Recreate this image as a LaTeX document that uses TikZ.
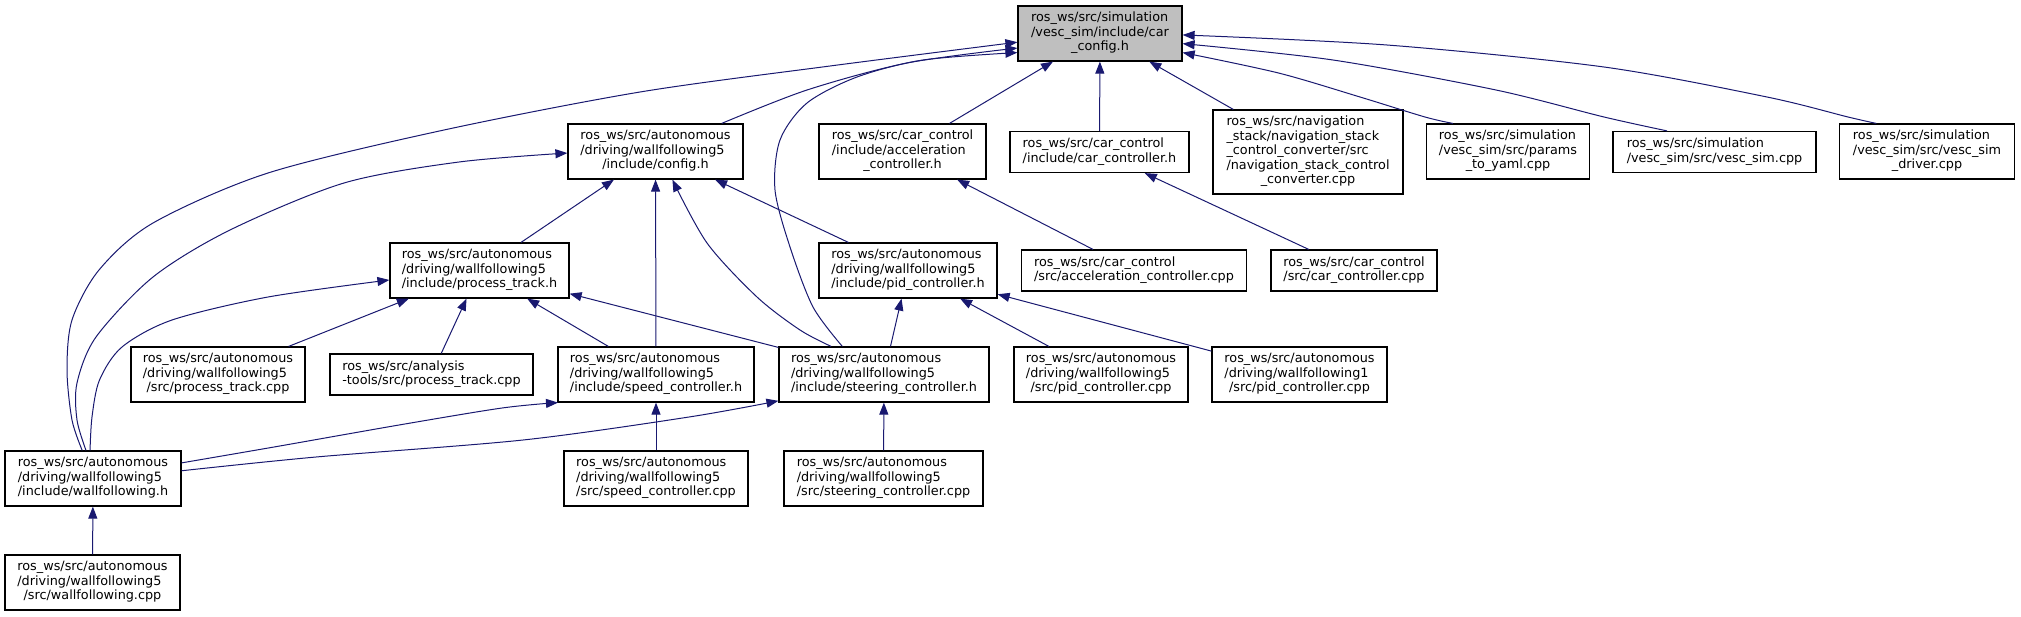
\documentclass[tikz,border=0pt]{standalone}
\usepackage{fontspec}
\setmainfont{DejaVu Sans}
\usetikzlibrary{arrows.meta}
\definecolor{edgeblue}{HTML}{191970}
\definecolor{focusgray}{HTML}{BFBFBF}
\newcommand{\lblfont}{\fontsize{6.4}{7.25}\selectfont}
% lines left aligned, the last one centred
\newcommand{\flabel}[2]{\begin{tabular}{@{}l@{}}#1\\\multicolumn{1}{@{}c@{}}{#2}\end{tabular}}

\begin{document}
\begin{tikzpicture}[x=0.5pt, y=-0.5pt,
    file/.style={draw=black, line width=0.6pt, fill=white, inner sep=0pt, font=\lblfont},
    rows2/.style={minimum height=20.5pt},
    rows3/.style={minimum height=27.5pt},
    rows5/.style={minimum height=42pt},
    boxw/.style={minimum width=#1*0.5pt},
    dep/.style={draw=edgeblue, line width=0.5pt, -{Triangle[length=6pt,width=4.5pt]}}]
  \useasboundingbox (0,0) rectangle (2021,616);
  % top row
  \node[file, rows3, boxw=164, fill=focusgray] (carcfg) at (1100,33.5)
    {\flabel{ros\_ws/src/simulation\\/vesc\_sim/include/car}{\_config.h}};
  % second row
  \node[file, rows3, boxw=175] (config) at (655.5,151.5)
    {\flabel{ros\_ws/src/autonomous\\/driving/wallfollowing5}{/include/config.h}};
  \node[file, rows3, boxw=167] (accelh) at (902.5,151.5)
    {\flabel{ros\_ws/src/car\_control\\/include/acceleration}{\_controller.h}};
  \node[file, rows2, boxw=179] (carctrlh) at (1099.5,152)
    {\flabel{ros\_ws/src/car\_control}{/include/car\_controller.h}};
  \node[file, rows5, boxw=190] (navconv) at (1308,152)
    {\flabel{ros\_ws/src/navigation\\\_stack/navigation\_stack\\\_control\_converter/src\\/navigation\_stack\_control}{\_converter.cpp}};
  \node[file, rows3, boxw=163] (params) at (1508,151.5)
    {\flabel{ros\_ws/src/simulation\\/vesc\_sim/src/params}{\_to\_yaml.cpp}};
  \node[file, rows2, boxw=203] (vescsim) at (1714.5,152)
    {\flabel{ros\_ws/src/simulation}{/vesc\_sim/src/vesc\_sim.cpp}};
  \node[file, rows3, boxw=175] (vescdrv) at (1927,151.5)
    {\flabel{ros\_ws/src/simulation\\/vesc\_sim/src/vesc\_sim}{\_driver.cpp}};
  % third row
  \node[file, rows3, boxw=179] (proch) at (479.5,270.5)
    {\flabel{ros\_ws/src/autonomous\\/driving/wallfollowing5}{/include/process\_track.h}};
  \node[file, rows3, boxw=178] (pidh) at (908,270.5)
    {\flabel{ros\_ws/src/autonomous\\/driving/wallfollowing5}{/include/pid\_controller.h}};
  \node[file, rows2, boxw=225] (accelcpp) at (1134,270.5)
    {\flabel{ros\_ws/src/car\_control}{/src/acceleration\_controller.cpp}};
  \node[file, rows2, boxw=166] (carctrlcpp) at (1354,270.5)
    {\flabel{ros\_ws/src/car\_control}{/src/car\_controller.cpp}};
  % fourth row
  \node[file, rows3, boxw=174] (proccpp) at (218,374.5)
    {\flabel{ros\_ws/src/autonomous\\/driving/wallfollowing5}{/src/process\_track.cpp}};
  \node[file, rows2, boxw=203] (analysis) at (431.5,374.5)
    {\flabel{ros\_ws/src/analysis}{-tools/src/process\_track.cpp}};
  \node[file, rows3, boxw=196] (speedh) at (656,374.5)
    {\flabel{ros\_ws/src/autonomous\\/driving/wallfollowing5}{/include/speed\_controller.h}};
  \node[file, rows3, boxw=210] (steerh) at (884,374.5)
    {\flabel{ros\_ws/src/autonomous\\/driving/wallfollowing5}{/include/steering\_controller.h}};
  \node[file, rows3, boxw=174] (pid5cpp) at (1101,374.5)
    {\flabel{ros\_ws/src/autonomous\\/driving/wallfollowing5}{/src/pid\_controller.cpp}};
  \node[file, rows3, boxw=175] (pid1cpp) at (1299.5,374.5)
    {\flabel{ros\_ws/src/autonomous\\/driving/wallfollowing1}{/src/pid\_controller.cpp}};
  % fifth and sixth row
  \node[file, rows3, boxw=176] (wallh) at (93,478.5)
    {\flabel{ros\_ws/src/autonomous\\/driving/wallfollowing5}{/include/wallfollowing.h}};
  \node[file, rows3, boxw=184] (speedcpp) at (656,478.5)
    {\flabel{ros\_ws/src/autonomous\\/driving/wallfollowing5}{/src/speed\_controller.cpp}};
  \node[file, rows3, boxw=199] (steercpp) at (883.5,478.5)
    {\flabel{ros\_ws/src/autonomous\\/driving/wallfollowing5}{/src/steering\_controller.cpp}};
  \node[file, rows3, boxw=175] (wallcpp) at (92.5,582.5)
    {\flabel{ros\_ws/src/autonomous\\/driving/wallfollowing5}{/src/wallfollowing.cpp}};

  % straight includes
  \draw[dep] (accelh) -- (carcfg);
  \draw[dep] (carctrlh) -- (carcfg);
  \draw[dep] (navconv) -- (carcfg);
  \draw[dep] (proch) -- (config);
  \draw[dep] (speedh) -- (config);
  \draw[dep] (pidh) -- (config);
  \draw[dep] (accelcpp) -- (accelh);
  \draw[dep] (carctrlcpp) -- (carctrlh);
  \draw[dep] (proccpp) -- (proch);
  \draw[dep] (analysis) -- (proch);
  \draw[dep] (speedh) -- (proch);
  \draw[dep] (steerh) -- (proch);
  \draw[dep] (steerh) -- (pidh);
  \draw[dep] (pid5cpp) -- (pidh);
  \draw[dep] (pid1cpp) -- (pidh);
  \draw[dep] (speedcpp) -- (speedh);
  \draw[dep] (steercpp) -- (steerh);
  \draw[dep] (wallcpp) -- (wallh);
  % curved includes
  \draw[dep] plot[smooth] coordinates {(wallh.111) (72,420) (67,370) (72,320) (99,270)
    (153,223) (268,173) (444,130) (640,92) (830,66) (carcfg.186.6)};
  \draw[dep] plot[smooth] coordinates {(wallh.104) (77,420) (77,383) (96,337) (153,277)
    (230,230) (344,183) (459,162) (config.181.6)};
  \draw[dep] plot[smooth] coordinates {(wallh.96) (92,417) (99.5,380) (122,347)
    (172,320) (268,297) (proch.186)};
  \draw[dep] plot[smooth] coordinates {(wallh.10.3) (274,447) (399,425) (502,408) (speedh.196)};
  \draw[dep] plot[smooth] coordinates {(wallh.5.8) (316,457) (523,440) (689,417) (steerh.194)};
  \draw[dep] plot[smooth] coordinates {(steerh.146) (813,307) (790,247) (775,190) (780,140)
    (807,103) (857,77) (923,60) (carcfg.193.4)};
  \draw[dep] plot[smooth] coordinates {(steerh.152) (800,330) (757,297) (707,243) (config.301)};
  \draw[dep] plot[smooth] coordinates {(config.23) (807,90) (907,63) (carcfg.190)};
  \draw[dep] plot[smooth] coordinates {(params.153.8) (1425,117) (1360,97) (1278.5,73) (carcfg.347.5)};
  \draw[dep] plot[smooth] coordinates {(vescsim.156.3) (1604,117) (1496,90) (1333,60) (carcfg.353.4)};
  \draw[dep] plot[smooth] coordinates {(vescdrv.151.9) (1848,117) (1767,97) (1604,67) (1387,45) (carcfg.359)};
\end{tikzpicture}
\end{document}
